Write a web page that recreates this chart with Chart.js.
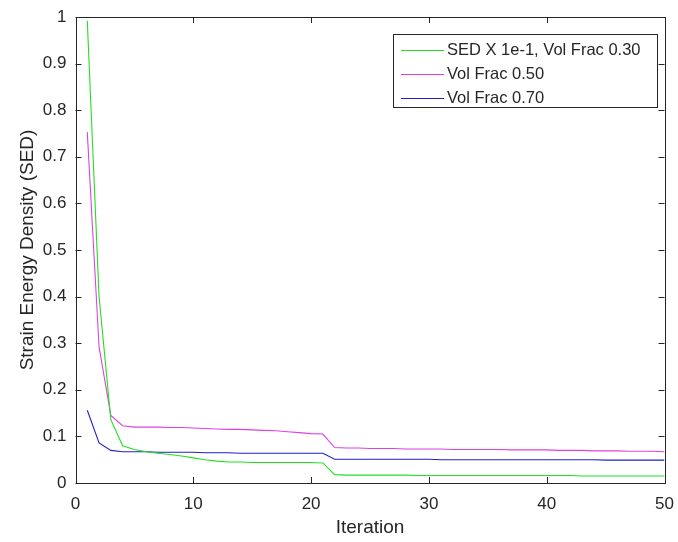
<!DOCTYPE html>
<html>
<head>
<meta charset="utf-8">
<script src="https://cdn.jsdelivr.net/npm/chart.js@4/dist/chart.umd.min.js"></script>
<style>
  html, body { margin: 0; padding: 0; background: #fff; }
  #wrap { width: 678px; height: 542px; }
</style>
</head>
<body>
<div id="wrap"><canvas id="chart" width="678" height="542"></canvas></div>
<script>
// Data
const iterations = Array.from({ length: 50 }, (_, i) => i + 1);

const sedVolFrac030 = [
  0.992, 0.400, 0.136, 0.080, 0.072, 0.067, 0.064, 0.061, 0.058, 0.054,
  0.050, 0.047, 0.045, 0.045, 0.044, 0.044, 0.044, 0.044, 0.044, 0.044,
  0.043, 0.018, 0.017, 0.017, 0.017, 0.017, 0.017, 0.017, 0.016, 0.016,
  0.016, 0.016, 0.016, 0.016, 0.016, 0.016, 0.016, 0.016, 0.016, 0.016,
  0.016, 0.016, 0.015, 0.015, 0.015, 0.015, 0.015, 0.015, 0.015, 0.015
];

const volFrac050 = [
  0.753, 0.292, 0.145, 0.123, 0.120, 0.120, 0.120, 0.119, 0.119, 0.118,
  0.117, 0.116, 0.115, 0.115, 0.114, 0.113, 0.112, 0.110, 0.108, 0.106,
  0.105, 0.076, 0.075, 0.075, 0.074, 0.074, 0.074, 0.073, 0.073, 0.073,
  0.073, 0.072, 0.072, 0.072, 0.072, 0.072, 0.071, 0.071, 0.071, 0.071,
  0.070, 0.070, 0.070, 0.069, 0.069, 0.069, 0.068, 0.068, 0.068, 0.067
];

const volFrac070 = [
  0.156, 0.086, 0.070, 0.067, 0.067, 0.067, 0.066, 0.066, 0.066, 0.066,
  0.065, 0.065, 0.065, 0.064, 0.064, 0.064, 0.064, 0.064, 0.064, 0.064,
  0.064, 0.051, 0.051, 0.051, 0.051, 0.051, 0.051, 0.051, 0.051, 0.051,
  0.050, 0.050, 0.050, 0.050, 0.050, 0.050, 0.050, 0.050, 0.050, 0.050,
  0.050, 0.050, 0.050, 0.050, 0.049, 0.049, 0.049, 0.049, 0.049, 0.049
];

const seriesLabels = ["SED X 1e-1, Vol Frac 0.30", "Vol Frac 0.50", "Vol Frac 0.70"];
const xTicks = [0, 10, 20, 30, 40, 50];
const yTicks = [0, 0.1, 0.2, 0.3, 0.4, 0.5, 0.6, 0.7, 0.8, 0.9, 1];

const axisColor = "#262626";
const fontFamily = "'Liberation Sans', Arial, sans-serif";

function toPoints(values) {
  return values.map((v, i) => ({ x: iterations[i], y: v }));
}

// box around the axes with inward tick marks (matlab style)
const boxPlugin = {
  id: "box",
  afterDatasetsDraw(chart) {
    const { ctx, chartArea: a, scales } = chart;
    const tick = 6;
    ctx.save();
    ctx.strokeStyle = axisColor;
    ctx.lineWidth = 1;
    ctx.strokeRect(Math.round(a.left) + 0.5, Math.round(a.top) + 0.5,
      Math.round(a.right - a.left), Math.round(a.bottom - a.top));
    ctx.beginPath();
    xTicks.forEach((t) => {
      const x = Math.round(scales.x.getPixelForValue(t)) + 0.5;
      ctx.moveTo(x, a.bottom); ctx.lineTo(x, a.bottom - tick);
      ctx.moveTo(x, a.top); ctx.lineTo(x, a.top + tick);
    });
    yTicks.forEach((t) => {
      const y = Math.round(scales.y.getPixelForValue(t)) + 0.5;
      ctx.moveTo(a.left, y); ctx.lineTo(a.left + tick, y);
      ctx.moveTo(a.right, y); ctx.lineTo(a.right - tick, y);
    });
    ctx.stroke();
    ctx.restore();
  }
};

// legend drawn inside the plot, top right
const legendPlugin = {
  id: "insideLegend",
  afterDraw(chart) {
    const { ctx } = chart;
    const box = { left: 393.5, top: 34.5, width: 264, height: 73 };
    ctx.save();
    ctx.fillStyle = "#fff";
    ctx.fillRect(box.left, box.top, box.width, box.height);
    ctx.strokeStyle = axisColor;
    ctx.lineWidth = 1;
    ctx.strokeRect(box.left, box.top, box.width, box.height);
    ctx.font = "16.5px " + fontFamily;
    ctx.textBaseline = "middle";
    chart.data.datasets.forEach((ds, i) => {
      const y = 50 + i * 24;
      ctx.strokeStyle = ds.borderColor;
      ctx.beginPath();
      ctx.moveTo(401, y + 0.5);
      ctx.lineTo(444, y + 0.5);
      ctx.stroke();
      ctx.fillStyle = axisColor;
      ctx.fillText(ds.label, 447, y);
    });
    ctx.restore();
  }
};

new Chart(document.getElementById("chart"), {
  type: "line",
  data: {
    datasets: [
      { label: seriesLabels[0], data: toPoints(sedVolFrac030), borderColor: "#22e022" },
      { label: seriesLabels[1], data: toPoints(volFrac050), borderColor: "#e040e0" },
      { label: seriesLabels[2], data: toPoints(volFrac070), borderColor: "#2020c8" }
    ]
  },
  options: {
    responsive: false,
    animation: false,
    layout: { padding: { top: 17, right: 13.5, bottom: 0, left: 0 } },
    elements: {
      line: { borderWidth: 1.1, tension: 0 },
      point: { radius: 0 }
    },
    plugins: {
      legend: { display: false },
      tooltip: { enabled: false }
    },
    scales: {
      x: {
        type: "linear",
        min: 0,
        max: 50,
        afterBuildTicks: (s) => { s.ticks = xTicks.map((v) => ({ value: v })); },
        afterFit: (s) => { s.height = 59; s.paddingLeft = 0; s.paddingRight = 0; },
        grid: { display: false, drawTicks: false },
        border: { display: false },
        ticks: { color: axisColor, font: { family: fontFamily, size: 17 }, padding: 11, maxRotation: 0 },
        title: {
          display: true,
          text: "Iteration",
          color: axisColor,
          font: { family: fontFamily, size: 19 },
          padding: { top: 0, bottom: 3 }
        }
      },
      y: {
        min: 0,
        max: 1,
        afterBuildTicks: (s) => { s.ticks = yTicks.map((v) => ({ value: v })); },
        afterFit: (s) => { s.width = 75.5; s.paddingTop = 0; s.paddingBottom = 0; },
        grid: { display: false, drawTicks: false },
        border: { display: false },
        ticks: {
          color: axisColor,
          font: { family: fontFamily, size: 17 },
          padding: 9,
          callback: (v) => String(Math.round(v * 10) / 10)
        },
        title: {
          display: true,
          text: "Strain Energy Density (SED)",
          color: axisColor,
          font: { family: fontFamily, size: 19 },
          padding: { top: 16, bottom: 0 }
        }
      }
    }
  },
  plugins: [boxPlugin, legendPlugin]
});
</script>
</body>
</html>
